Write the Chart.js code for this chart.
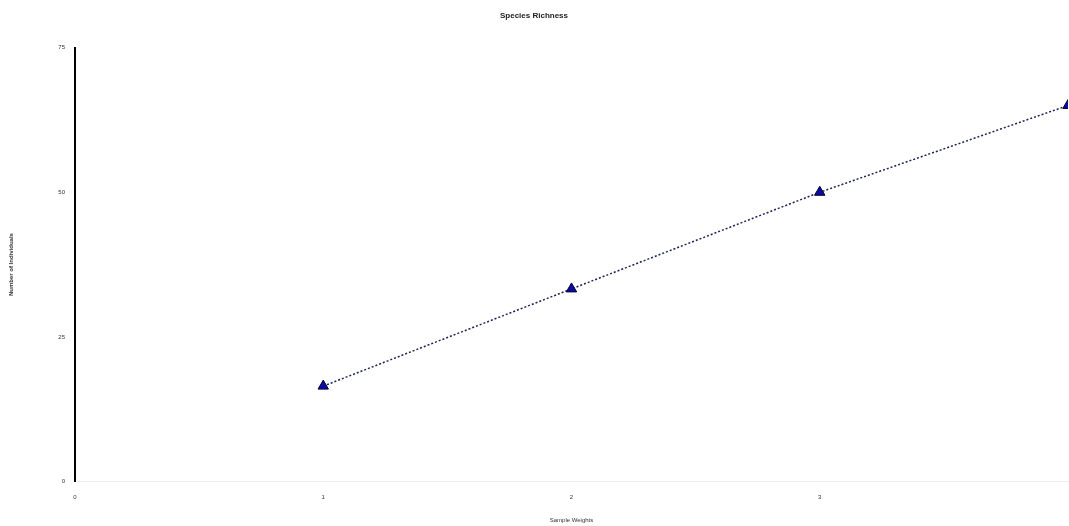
<!DOCTYPE html>
<html>
<head>
<meta charset="utf-8">
<script src="https://cdn.jsdelivr.net/npm/chart.js@4"></script>
<style>
html,body{margin:0;padding:0;background:#fff;}
#wrap{width:1069px;height:526px;position:relative;}
</style>
</head>
<body>
<div id="wrap"><canvas id="c"></canvas></div>
<script>
const chartTitle = "Species Richness";
const xTitle = "Sample Weights";
const yTitle = "Number of Individuals";
const xValues = [1, 2, 3, 4];
const yValues = [16.5, 33.3, 50, 65];
const xTicks = [0, 1, 2, 3, 4];
const yTicks = [0, 25, 50, 75];

const points = xValues.map((x, i) => ({x: x, y: yValues[i]}));

new Chart(document.getElementById('c'), {
  type: 'scatter',
  data: {
    datasets: [{
      data: points,
      showLine: true,
      borderColor: '#22225a',
      borderWidth: 1.5,
      borderDash: [2, 2],
      pointStyle: 'triangle',
      pointRadius: 6,
      pointBackgroundColor: '#0a0aa0',
      pointBorderColor: '#000033',
      pointBorderWidth: 1
    }]
  },
  options: {
    responsive: true,
    maintainAspectRatio: false,
    animation: false,
    layout: {autoPadding: false, padding: {left: 0, right: 1, top: 0, bottom: 0}},
    plugins: {
      legend: {display: false},
      tooltip: {enabled: false},
      title: {
        display: true,
        text: chartTitle,
        color: '#222',
        font: {family: 'Liberation Sans', size: 8, weight: 'bold'},
        padding: {top: 11, bottom: 27}
      }
    },
    scales: {
      x: {
        type: 'linear',
        min: 0,
        max: 4,
        afterBuildTicks: s => { s.ticks = xTicks.map(v => ({value: v})); },
        grid: {display: false, drawTicks: true, tickLength: 12, tickColor: 'rgba(0,0,0,0.04)'},
        border: {display: true, color: '#eeeeee', width: 1},
        ticks: {
          color: '#333',
          font: {family: 'Liberation Sans', size: 6},
          padding: 0,
          maxRotation: 0,
          callback: v => (v === 4 ? '' : String(v))
        },
        title: {
          display: true,
          text: xTitle,
          color: '#333',
          font: {family: 'Liberation Sans', size: 6},
          padding: {top: 16, bottom: 2}
        }
      },
      y: {
        min: 0,
        max: 75,
        afterBuildTicks: s => { s.ticks = yTicks.map(v => ({value: v})); },
        afterFit: s => { s.width = 75; },
        grid: {display: false, drawTicks: true, tickLength: 8, tickColor: '#ddd'},
        border: {display: true, color: '#000', width: 2},
        ticks: {
          color: '#333',
          font: {family: 'Liberation Sans', size: 6},
          padding: 2
        },
        title: {
          display: true,
          text: yTitle,
          color: '#333',
          font: {family: 'Liberation Sans', size: 6, weight: 'bold'},
          padding: {top: 8, bottom: 0}
        }
      }
    }
  }
});
</script>
</body>
</html>
